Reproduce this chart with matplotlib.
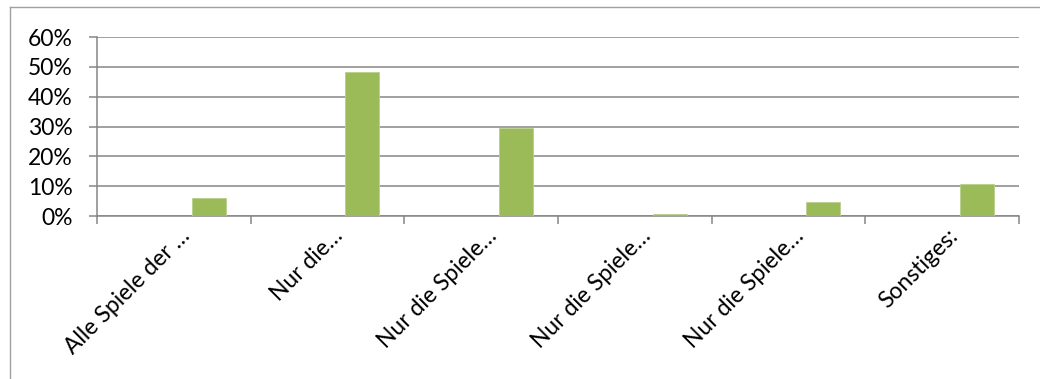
import matplotlib.pyplot as plt
from matplotlib.lines import Line2D
from matplotlib.ticker import FuncFormatter
import numpy as np

plt.rcParams['font.family'] = ['Lato', 'DejaVu Sans']

categories = ['Alle Spiele der …', 'Nur die…', 'Nur die Spiele…',
              'Nur die Spiele…', 'Nur die Spiele…', 'Sonstiges:']
shares = [5.9, 48.4, 29.4, 0.6, 4.7, 10.6]   # percent
yticks = [0, 10, 20, 30, 40, 50, 60]

GRID = '#868686'
BAR = '#9bbb59'

fig = plt.figure(figsize=(10.4, 3.79), dpi=100)
fig.patch.set_facecolor('white')
ax = fig.add_axes([97 / 1040, 1 - 216 / 379, 922 / 1040, 179 / 379])

x = np.arange(len(categories))
ax.bar(x + 0.227, shares, width=0.221, color=BAR, edgecolor='#b9d08c',
       linewidth=0.6, zorder=3)

ax.set_xlim(-0.5, len(categories) - 0.5)
ax.set_ylim(0, 60)

# horizontal gridlines, drawn across the tick marks as well
ax.set_yticks(yticks)
ax.yaxis.set_major_formatter(FuncFormatter(lambda v, _: f'{v:.0f}%'))
ax.grid(axis='y', color=GRID, linewidth=1.1, zorder=0)
ax.tick_params(axis='y', length=6, width=1.1, color=GRID, pad=11.5,
               labelsize=16.5, labelcolor='black')

# category boundaries get the tick marks, the names sit between them
ax.set_xticks(np.arange(-0.5, len(categories)), labels=[''] * (len(categories) + 1))
ax.tick_params(axis='x', which='major', length=6, width=1.1, color=GRID)
ax.set_xticks(x + 0.08, labels=categories, minor=True)
ax.tick_params(axis='x', which='minor', length=0, pad=12, labelsize=16.5)
for lbl in ax.get_xticklabels(minor=True):
    lbl.set_rotation(45)
    lbl.set_rotation_mode('anchor')
    lbl.set_ha('right')
    lbl.set_va('center')

for side in ['top', 'right']:
    ax.spines[side].set_visible(False)
for side in ['left', 'bottom']:
    ax.spines[side].set_color(GRID)
    ax.spines[side].set_linewidth(1.1)

# outer chart frame
fig.add_artist(Line2D([10 / 1040, 1.0], [1 - 7 / 379] * 2, color='#a0a0a0',
                      linewidth=1.0, transform=fig.transFigure))
fig.add_artist(Line2D([10 / 1040] * 2, [0.0, 1 - 7 / 379], color='#a0a0a0',
                      linewidth=1.0, transform=fig.transFigure))

fig.savefig('out.png', dpi=100, facecolor='white')
